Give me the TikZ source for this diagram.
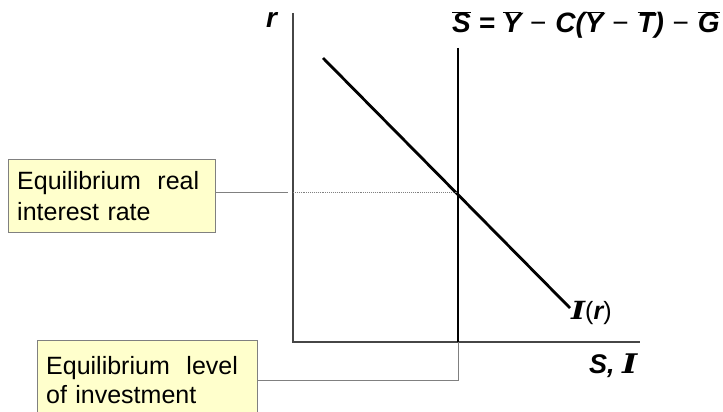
\documentclass[tikz,border=0pt]{standalone}
\usepackage{fontspec}
\setmainfont{Liberation Sans}
\newfontfamily\serifbi{DejaVu Serif}[BoldItalicFont={DejaVu Serif Bold Italic}, FakeStretch=1.2]
\usetikzlibrary{positioning}

\definecolor{noteyellow}{RGB}{255,255,204}
\definecolor{axisgray}{RGB}{70,70,70}
\newcommand{\ob}[1]{$\overline{\hbox{#1}}$}
\newcommand{\mns}{\kern1pt{\mdseries\upshape −}\kern1pt}

\begin{document}
\begin{tikzpicture}[
            x=1pt, y=-1pt,
            note/.style={
                    draw=gray,
                    fill=noteyellow,
                    align=left,
                    inner xsep=9pt,
                    inner ysep=0pt,
                    font=\fontsize{25}{31}\selectfont
                },
            axis/.style={
                    draw=axisgray,
                    line width=1.2pt
                },
            curve/.style={
                    draw=black,
                    line width=2.8pt
                },
            guide/.style={
                    draw=gray,
                    line width=0.8pt
                },
            lbl/.style={
                    font=\fontsize{#1}{#1}\selectfont\bfseries\itshape,
                    inner sep=0pt,
                    anchor=base west
                }
        ]

        \useasboundingbox (0,0) rectangle (723,412);

        % axes
        \coordinate (O) at (293,342);
        \coordinate (ytop) at (293,13);
        \coordinate (xend) at (640,342);
        \draw[axis] (ytop) -- (O) -- (xend);

        % saving and investment
        \coordinate (Stop) at (458,48);
        \coordinate (Sbot) at (458,342);
        \coordinate (Itop) at (323,58);
        \coordinate (Ibot) at (570,308);
        \coordinate (eq) at (458,192);
        \draw[curve] (Stop) -- (Sbot);
        \draw[curve] (Itop) -- (Ibot);
        \draw[gray, densely dotted, line width=0.9pt] (O |- eq) -- (eq);

        % labels
        \node[lbl=28] (rlab) at (266,28) {r};
        \node[lbl=28] (slab) at (452,33)
        {\ob{S} = \ob{Y} \mns{} C(\ob{Y} \mns{} \ob{T}) \mns{} \ob{G}};
        \node[lbl=25] (ilab) at (571,319)
        {{\serifbi I}{\mdseries\upshape (}r{\mdseries\upshape )}};
        \node[lbl=27] (silab) at (589,373)
        {S, {\serifbi I}};

        % notes
        \node[note, text width=189pt, minimum height=73pt, anchor=north west] (rate) at (8,159)
        {Equilibrium\,\, real\\interest rate};
        \node[note, text width=202pt, minimum height=80pt, anchor=north west,
            font=\fontsize{25}{29}\selectfont] (level) at (37,340)
        {Equilibrium\,\, level\\of investment};

        \coordinate (rateend) at (288,192);
        \draw[guide] (rate.east |- eq) -- (rateend);
        \draw[guide] (level.east) -- (level.east -| Sbot) -- (Sbot);

    \end{tikzpicture}
\end{document}
